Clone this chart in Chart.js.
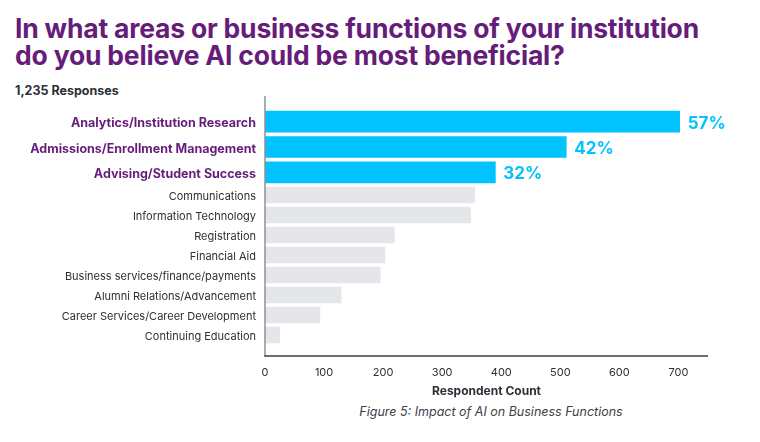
<!DOCTYPE html>
<html>
<head>
<meta charset="utf-8">
<script src="https://cdn.jsdelivr.net/npm/chart.js@4.4.1/dist/chart.umd.min.js"></script>
<style>
  html, body { margin: 0; padding: 0; background: #fff; }
  body { width: 760px; height: 442px; position: relative; overflow: hidden; font-family: Inter, "Noto Sans", sans-serif; }
  #title {
    position: absolute; left: 15px; top: 15px; margin: 0; white-space: nowrap;
    font-family: Inter, sans-serif;
    font-weight: 700; font-size: 26.5px; line-height: 27px; color: #661c79;
    letter-spacing: -0.2px;
  }
  #count {
    position: absolute; left: 15px; top: 84px; white-space: nowrap;
    font-family: Inter, sans-serif;
    font-weight: 700; font-size: 12.5px; line-height: 14px; color: #2b2f36;
  }
  #topWrap { position: absolute; left: 0; top: 96px; width: 760px; height: 89px; }
  #botWrap { position: absolute; left: 0; top: 185px; width: 760px; height: 218px; }
  #caption {
    position: absolute; left: 0; width: 982px; top: 404px; text-align: center;
    font-style: italic; font-size: 12.5px; color: #3b3f46;
  }
</style>
</head>
<body>
<h1 id="title">In what areas or business functions of your institution<br>do you believe AI could be most beneficial?</h1>
<div id="count">1,235 Responses</div>
<div id="topWrap"><canvas id="topChart"></canvas></div>
<div id="botWrap"><canvas id="botChart"></canvas></div>
<div id="caption">Figure 5: Impact of AI on Business Functions</div>
<script>
  // top three highlighted functions
  const topLabels = ["Analytics/Institution Research", "Admissions/Enrollment Management", "Advising/Student Success"];
  const topValues = [702, 510, 390];
  const topPercents = ["57%", "42%", "32%"];

  // remaining functions
  const restLabels = [
    "Communications",
    "Information Technology",
    "Registration",
    "Financial Aid",
    "Business services/finance/payments",
    "Alumni Relations/Advancement",
    "Career Services/Career Development",
    "Continuing Education"
  ];
  const restValues = [355, 348, 219, 203, 195, 129, 93, 25];

  const xTicks = [0, 100, 200, 300, 400, 500, 600, 700];
  const xMax = 750;

  const cyan = "#00c3ff";
  const grey = "#e4e6e9";
  const purple = "#661c79";
  const dark = "#2b2f36";

  // fixed label column, and no extra padding from half label heights
  const fixLeft = scale => {
    scale.width = 265;
    scale.paddingTop = 0;
    scale.paddingBottom = 0;
  };
  const fixBottom = scale => {
    scale.height = 58;
    scale.paddingLeft = 0;
    scale.paddingRight = 0;
  };
  const keepTicks = scale => { scale.ticks = xTicks.map(v => ({ value: v })); };

  // axis lines, drawn a bit past the bars like the original
  const axisLines = {
    id: "axisLines",
    afterDraw(chart, args, opts) {
      const { ctx, chartArea } = chart;
      ctx.save();
      ctx.lineWidth = 1.5;
      ctx.strokeStyle = "#8d9299";
      ctx.beginPath();
      ctx.moveTo(chartArea.left, chartArea.top - opts.extraTop);
      ctx.lineTo(chartArea.left, chartArea.bottom + opts.extraBottom);
      ctx.stroke();
      if (opts.drawX) {
        ctx.strokeStyle = "#3a3e47";
        ctx.beginPath();
        ctx.moveTo(chartArea.left - 0.75, chartArea.bottom + opts.extraBottom);
        ctx.lineTo(chartArea.right, chartArea.bottom + opts.extraBottom);
        ctx.stroke();
      }
      ctx.restore();
    }
  };

  const percentLabels = {
    id: "percentLabels",
    afterDatasetsDraw(chart) {
      const { ctx } = chart;
      const meta = chart.getDatasetMeta(0);
      ctx.save();
      ctx.font = "700 17px Inter, sans-serif";
      ctx.fillStyle = cyan;
      ctx.textAlign = "left";
      ctx.textBaseline = "middle";
      meta.data.forEach((bar, i) => {
        ctx.fillText(topPercents[i], bar.x + 8, bar.y + 2);
      });
      ctx.restore();
    }
  };

  new Chart(document.getElementById("topChart"), {
    type: "bar",
    data: {
      labels: topLabels,
      datasets: [{
        data: topValues,
        backgroundColor: cyan,
        barThickness: 21
      }]
    },
    options: {
      indexAxis: "y",
      responsive: true,
      maintainAspectRatio: false,
      animation: false,
      layout: { padding: { top: 13, right: 52, bottom: 0, left: 0 } },
      scales: {
        x: { display: false, min: 0, max: xMax },
        y: {
          afterFit: fixLeft,
          grid: { display: false, drawTicks: false },
          border: { display: false },
          ticks: {
            padding: 9,
            labelOffset: 2,
            color: purple,
            font: { family: "Inter, sans-serif", size: 12.5, weight: "700" }
          }
        }
      },
      plugins: {
        legend: { display: false },
        tooltip: { enabled: false },
        axisLines: { extraTop: 13, extraBottom: 0, drawX: false }
      }
    },
    plugins: [axisLines, percentLabels]
  });

  new Chart(document.getElementById("botChart"), {
    type: "bar",
    data: {
      labels: restLabels,
      datasets: [{
        data: restValues,
        backgroundColor: grey,
        barThickness: 16
      }]
    },
    options: {
      indexAxis: "y",
      responsive: true,
      maintainAspectRatio: false,
      animation: false,
      layout: { padding: { top: 0, right: 52, bottom: 0, left: 0 } },
      scales: {
        x: {
          min: 0,
          max: xMax,
          afterBuildTicks: keepTicks,
          afterFit: fixBottom,
          grid: { display: false, drawTicks: false },
          border: { display: false },
          ticks: {
            padding: 21,
            color: dark,
            font: { family: "Inter, sans-serif", size: 11 }
          },
          title: {
            display: true,
            text: "Respondent Count",
            color: dark,
            padding: { top: 5, bottom: 4 },
            font: { family: "Inter, sans-serif", size: 12, weight: "700" }
          }
        },
        y: {
          afterFit: fixLeft,
          grid: { display: false, drawTicks: false },
          border: { display: false },
          ticks: {
            autoSkip: false,
            padding: 9,
            labelOffset: 1.5,
            color: dark,
            font: { family: "Inter, sans-serif", size: 11 }
          }
        }
      },
      plugins: {
        legend: { display: false },
        tooltip: { enabled: false },
        axisLines: { extraTop: 0, extraBottom: 11, drawX: true }
      }
    },
    plugins: [axisLines]
  });
</script>
</body>
</html>
